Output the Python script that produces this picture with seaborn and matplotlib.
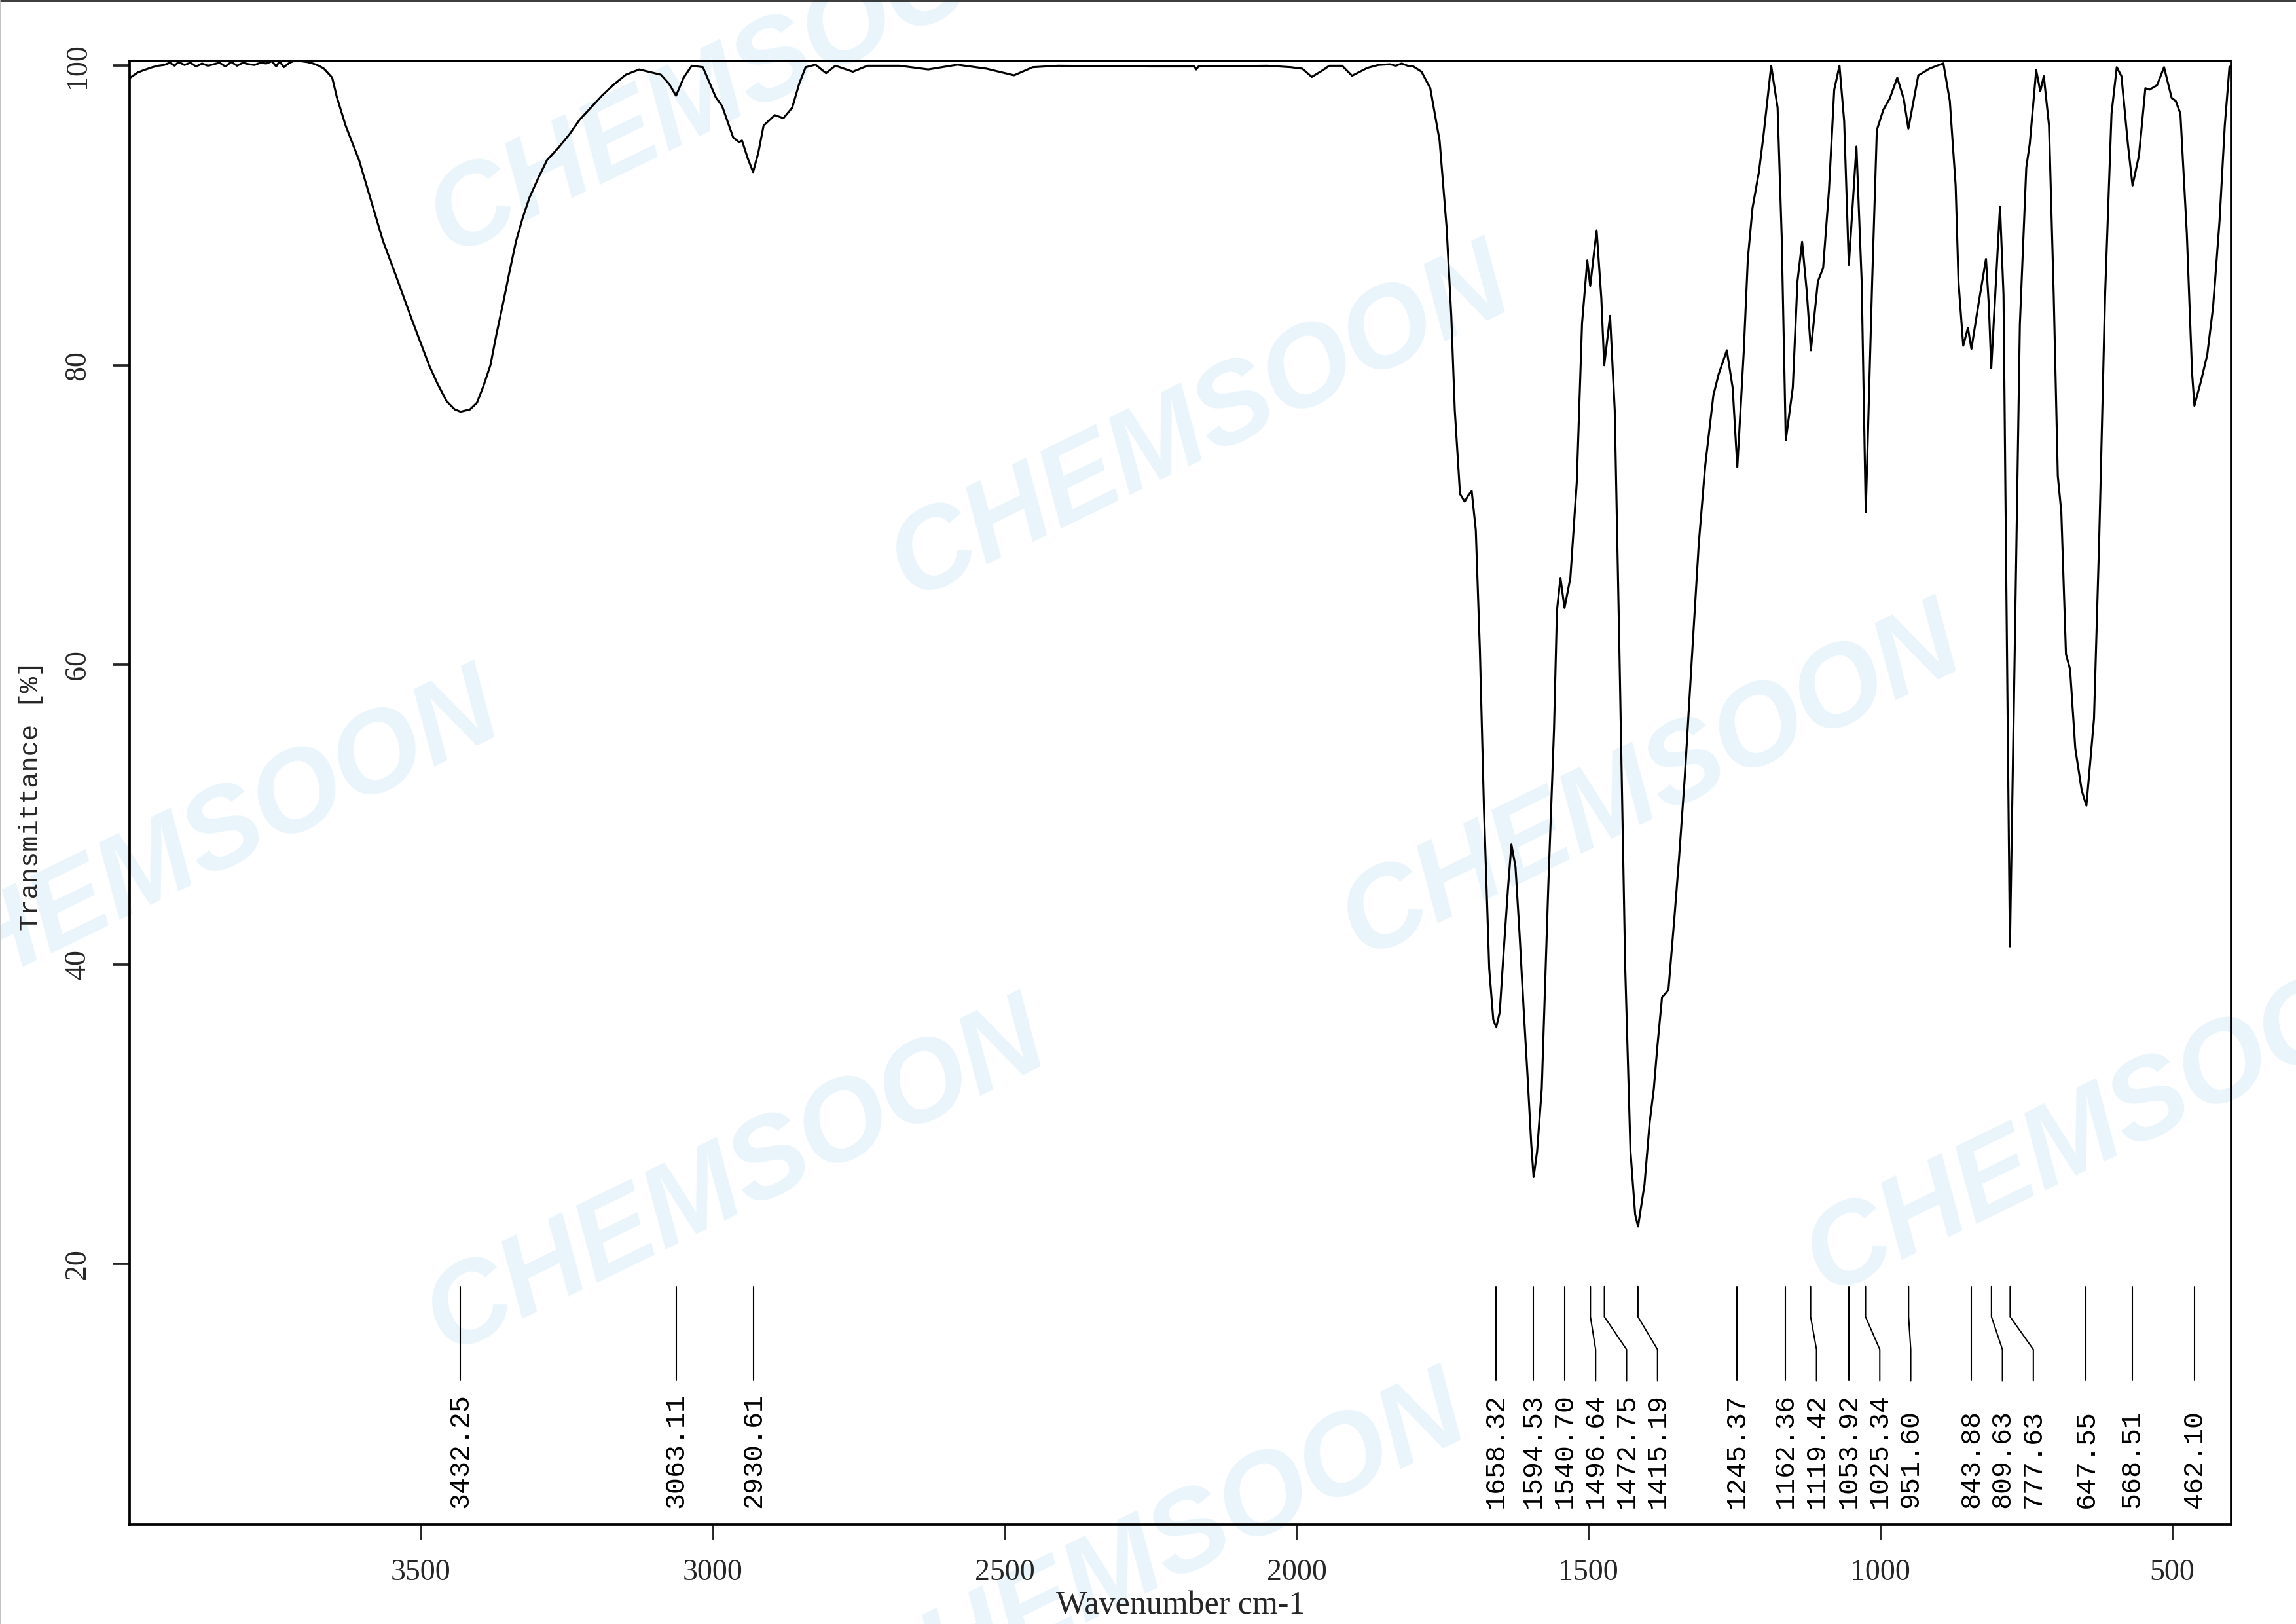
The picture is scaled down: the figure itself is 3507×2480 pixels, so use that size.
import matplotlib
matplotlib.use("Agg")
import matplotlib.pyplot as plt
from matplotlib.lines import Line2D
import seaborn as sns
import pandas as pd

# ---------------- data ----------------
wavenumber = [
    3998, 3985, 3975, 3960, 3950, 3940, 3930, 3922, 3915, 3905, 3895, 3885, 3875, 3865,
    3855, 3845, 3835, 3825, 3815, 3805, 3795, 3785, 3775, 3765, 3755, 3748, 3742, 3735,
    3725, 3715, 3705, 3695, 3685, 3675, 3666, 3652, 3644, 3629, 3606, 3587, 3565, 3543,
    3516, 3486, 3472, 3456, 3442, 3432, 3416, 3404, 3393, 3381, 3371, 3359, 3348, 3337,
    3326, 3314, 3299, 3284, 3265, 3246, 3228, 3209, 3190, 3171, 3149, 3126, 3089, 3075,
    3063, 3050, 3036, 3017, 2995, 2984, 2965, 2955, 2950, 2940,
    2931, 2922, 2913, 2894, 2879, 2864, 2852, 2841, 2824, 2806, 2790, 2760, 2735, 2709,
    2680, 2631, 2581, 2531, 2484, 2452, 2409, 2250, 2175, 2172, 2168, 2050, 2010, 1990,
    1974, 1955, 1944, 1922, 1905, 1879, 1860, 1840, 1830, 1820, 1810, 1800, 1786, 1771,
    1755, 1743, 1735, 1729, 1720, 1712, 1706, 1700, 1693, 1686, 1679, 1670, 1663, 1658,
    1652, 1645, 1638, 1632, 1625, 1618, 1611, 1604, 1598, 1594, 1588, 1580, 1569, 1559,
    1554, 1548, 1541, 1531, 1520, 1511, 1502, 1497, 1486, 1478, 1473, 1463, 1455, 1447,
    1437, 1428, 1420, 1415, 1404, 1395, 1388, 1382, 1374, 1369, 1363, 1353, 1345, 1335,
    1322, 1311, 1300, 1286, 1277, 1263, 1253, 1245, 1234, 1227, 1219, 1208, 1200, 1187,
    1176, 1169, 1162, 1150, 1142, 1134, 1126, 1119, 1107, 1098, 1088, 1079, 1070, 1062,
    1054, 1041, 1032, 1025, 1014, 1006, 995, 984, 971, 960, 952, 935, 916, 903,
    892, 881, 871, 866, 858, 850, 844, 831, 819, 814, 810, 795, 789, 784,
    778, 770, 761, 750, 744, 733, 726, 720, 711, 703, 696, 690, 682, 675,
    666, 655, 647, 634, 625, 615, 604, 595, 587, 576, 568, 557, 546, 539,
    526, 514, 501, 494, 486, 475, 466, 462, 451, 440, 430, 419, 410, 402, 399,
]
transmittance = [
    99.2, 99.55, 99.7, 99.9, 100.0, 100.05, 100.2, 100.0, 100.25, 100.05, 100.2, 99.95, 100.15, 100.0,
    100.1, 100.2, 99.95, 100.25, 100.0, 100.2, 100.1, 100.05, 100.2, 100.15, 100.3, 99.95, 100.3, 99.9,
    100.2, 100.35, 100.3, 100.25, 100.15, 100.0, 99.8, 99.2, 97.9, 96.0, 93.7, 91.2, 88.3, 86.0,
    83.1, 80.0, 78.8, 77.6, 77.05, 76.9, 77.05, 77.5, 78.6, 80.0, 82.0, 84.2, 86.3, 88.3,
    89.8, 91.2, 92.5, 93.7, 94.5, 95.4, 96.4, 97.2, 98.0, 98.7, 99.4, 99.75, 99.4, 98.8,
    98.0, 99.2, 100.0, 99.9, 97.9, 97.3, 95.2, 94.9, 95.0, 93.8,
    92.9, 94.2, 96.0, 96.7, 96.5, 97.2, 98.8, 99.9, 100.07, 99.5, 100.0, 99.6, 100.0, 100.0,
    100.0, 99.75, 100.07, 99.8, 99.36, 99.9, 100.0, 99.95, 99.95, 99.75, 99.95, 100.0, 99.9, 99.8,
    99.25, 99.7, 100.0, 100.0, 99.33, 99.85, 100.05, 100.1, 100.0, 100.15, 100.0, 99.95, 99.6, 98.5,
    95.0, 89.2, 83.3, 77.0, 71.4, 70.9, 71.3, 71.6, 69.0, 61.0, 50.4, 39.7, 36.3, 35.8,
    36.8, 41.0, 45.0, 48.0, 46.5, 42.0, 37.0, 32.3, 28.0, 25.8, 27.5, 31.7, 45.0, 55.7,
    63.6, 65.8, 63.8, 65.8, 72.2, 82.8, 87.0, 85.3, 89.0, 84.5, 80.0, 83.3, 77.0, 61.0,
    39.7, 27.5, 23.3, 22.5, 25.3, 29.5, 31.7, 34.5, 37.8, 38.0, 38.3, 43.0, 47.0, 52.5,
    61.0, 68.1, 73.3, 78.0, 79.4, 81.0, 78.5, 73.2, 80.9, 87.1, 90.5, 92.9, 95.4, 100.0,
    97.2, 88.6, 75.0, 78.5, 85.6, 88.25, 84.9, 81.0, 85.6, 86.5, 91.7, 98.4, 100.0, 96.3,
    86.7, 94.6, 85.6, 70.2, 85.6, 95.7, 97.05, 97.8, 99.2, 97.8, 95.8, 99.35, 99.8, 100.0,
    100.16, 97.65, 92.0, 85.5, 81.3, 82.5, 81.1, 84.3, 87.1, 83.9, 79.8, 90.6, 84.7, 64.5,
    41.2, 60.4, 82.7, 93.2, 94.8, 99.7, 98.3, 99.3, 96.0, 84.7, 72.6, 70.2, 60.7, 59.7,
    54.4, 51.6, 50.6, 56.4, 68.5, 84.7, 96.8, 99.9, 99.3, 94.8, 92.0, 94.0, 98.5, 98.4,
    98.7, 99.9, 97.85, 97.65, 96.8, 88.8, 79.5, 77.3, 78.9, 80.7, 83.9, 89.6, 96.0, 99.9, 100.0,
]
peak_wavenumbers = [3432.25, 3063.11, 2930.61, 1658.32, 1594.53, 1540.70, 1496.64, 1472.75,
                    1415.19, 1245.37, 1162.36, 1119.42, 1053.92, 1025.34, 951.60, 843.88,
                    809.63, 777.63, 647.55, 568.51, 462.10]
peak_labels = ["3432.25", "3063.11", "2930.61", "1658.32", "1594.53", "1540.70", "1496.64",
               "1472.75", "1415.19", "1245.37", "1162.36", "1119.42", "1053.92", "1025.34",
               "951.60", "843.88", "809.63", "777.63", "647.55", "568.51", "462.10"]
x_ticks = [3500, 3000, 2500, 2000, 1500, 1000, 500]
y_ticks = [20, 40, 60, 80, 100]
x_label = "Wavenumber cm-1"
y_label = "Transmittance [%]"
watermark = "CHEMSOON"

df = pd.DataFrame({"wavenumber": wavenumber, "transmittance": transmittance})

# ---------------- figure ----------------
sns.set_style("ticks")
plt.rcParams["font.family"] = ["Liberation Serif", "DejaVu Serif"]

W, H = 3507, 2480
fig = plt.figure(figsize=(W / 300, H / 300), dpi=300)
fig.patch.set_facecolor("white")
ax = fig.add_axes([198 / W, 1 - 2328 / H, 3210 / W, 2235.4 / H])
ax.patch.set_alpha(0)

# watermark (behind the axes)
wm_centers = [(505, 55), (820, 290), (130, 580), (503, 805), (1128, 535), (1445, 765), (790, 1060)]
for cx, cy in wm_centers:
    fig.text(cx / 1568, 1 - cy / 1109, watermark, rotation=26, fontsize=42,
             fontweight="bold", fontstyle="italic", color="#eaf5fb",
             family=["Liberation Sans", "DejaVu Sans"], ha="center", va="center",
             rotation_mode="anchor", zorder=-10)

sns.lineplot(data=df, x="wavenumber", y="transmittance", ax=ax, color="black",
             linewidth=0.75, estimator=None, sort=False)

ax.set_xlim(3999, 399)
ax.set_ylim(2.6, 100.34)

# peak markers: spread labels that are too close
min_gap = 53.0
label_pos = []
for p in peak_wavenumbers:
    if label_pos and label_pos[-1] - p < min_gap:
        label_pos.append(label_pos[-1] - min_gap)
    else:
        label_pos.append(p)

y_top, y_k1, y_k2, y_bot, y_txt = 18.48, 16.47, 14.28, 12.2, 3.7
for p, lp, lab in zip(peak_wavenumbers, label_pos, peak_labels):
    if abs(lp - p) < 1e-6:
        ax.plot([p, p], [y_top, y_bot], color="black", lw=0.5)
    else:
        ax.plot([p, p, lp, lp], [y_top, y_k1, y_k2, y_bot], color="black", lw=0.5)
    ax.text(lp, y_txt, lab, rotation=90, rotation_mode="anchor", ha="left", va="center",
            fontsize=10, family=["Liberation Mono", "DejaVu Sans Mono"], color="black")

# axes styling
ax.set_xticks(x_ticks)
ax.set_xticklabels([str(t) for t in x_ticks])
ax.set_yticks(y_ticks)
ax.set_yticklabels([str(t) for t in y_ticks])
ax.tick_params(axis="x", length=5.5, width=0.7, pad=7, labelsize=11, direction="out")
ax.tick_params(axis="y", length=5.9, width=0.9, pad=8, labelsize=11, direction="out",
               labelrotation=90)
for lbl in ax.get_yticklabels():
    lbl.set_va("center")
for s in ax.spines.values():
    s.set_visible(True)
    s.set_linewidth(0.9)
    s.set_color("black")

ax.set_xlabel(x_label, fontsize=12, family=["Liberation Serif", "DejaVu Serif"])
ax.xaxis.set_label_coords(0.5, -0.0450)
ax.set_ylabel(y_label, fontsize=9.7, family=["Liberation Mono", "DejaVu Sans Mono"], va="center")
ax.yaxis.set_label_coords((47 - 198) / 3210, (2328 - 1215) / 2235.4)

# thin frame remnants of the original image
fig.add_artist(Line2D([0, 1], [0.9996, 0.9996], transform=fig.transFigure, color="black", lw=0.6))
fig.add_artist(Line2D([0.0002, 0.0002], [0, 1], transform=fig.transFigure, color="#b8b8b8", lw=0.4))

fig.savefig("out.png", dpi=300, facecolor="white")
